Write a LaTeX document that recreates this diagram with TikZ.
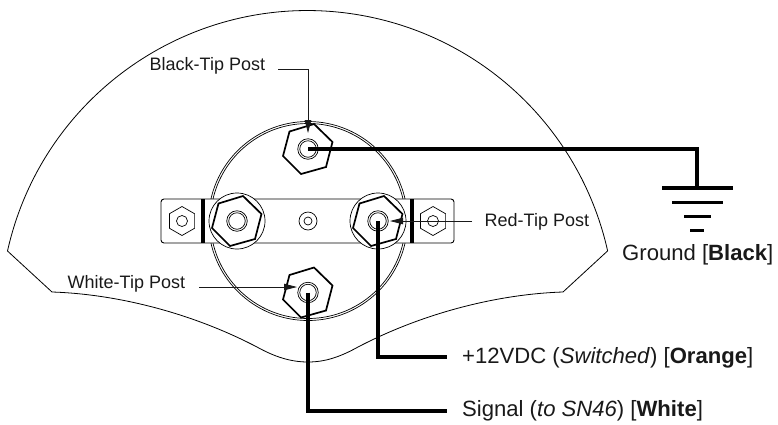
\documentclass[tikz,border=0pt]{standalone}
\usepackage{fontspec}
\setmainfont{Liberation Sans}
\usetikzlibrary{arrows.meta,calc}
\tikzset{
  thinline/.style={line width=0.8pt,draw=black},
  outline/.style={line width=0.9pt,draw=black,fill=white},
  hexline/.style={line width=1.7pt,draw=black,line join=miter},
  wire/.style={line width=3.4pt,draw=black,line join=miter},
  groundbar/.style={line width=3.2pt,draw=black},
  leader/.style={line width=0.8pt,draw=black!90,-{Triangle[length=13pt,width=6.5pt]}},
  smalllabel/.style={font=\fontsize{18}{20}\selectfont,text=black!90,inner sep=0pt,anchor=west},
  biglabel/.style={font=\fontsize{22.1}{25}\selectfont,text=black!90,inner sep=0pt,anchor=west},
  ring/.style={circle,draw=black,line width=0.7pt,fill=white,inner sep=0pt,minimum size=#1},
  lowerring/.style={circle,draw=black,line width=0.7pt,inner sep=0pt,minimum size=#1},
}
\newcommand{\bolthex}[1]{\draw[hexline,fill=white] ($(#1)+(-18.5,-17.5)$) -- ($(#1)+(6,-25)$) -- ($(#1)+(24.5,-7)$) -- ($(#1)+(18,18)$) -- ($(#1)+(-7,25)$) -- ($(#1)+(-25,7)$) -- cycle;}
\newcommand{\smallhex}[1]{\draw[line width=0.7pt,fill=white] ($(#1)+(0,-14.5)$) -- ($(#1)+(12.6,-7.25)$) -- ($(#1)+(12.6,7.25)$) -- ($(#1)+(0,14.5)$) -- ($(#1)+(-12.6,7.25)$) -- ($(#1)+(-12.6,-7.25)$) -- cycle;}
\begin{document}
\begin{tikzpicture}[x=1pt,y=-1pt]
\useasboundingbox (0,0) rectangle (778,424);
\draw[thinline,line join=round]
  (607.5,251) -- (563,292)
  .. controls (500,294) and (425,312) .. (358,347)
  .. controls (340,357) and (325,362) .. (308,362)
  .. controls (291,362) and (275,357) .. (257,347)
  .. controls (190,312) and (115,294) .. (52,292)
  -- (7.5,251);
\draw[thinline] (7.5,251) arc[start angle=192.6,end angle=347.4,radius=307.5];
\node[lowerring=199pt] (housing) at (308,221) {};
\node[lowerring=195pt] (housingin) at (308,221) {};
\draw[outline,rounded corners=3pt] (161,199) rectangle (454,243);
\draw[line width=4pt] (203,199) -- (203,243);
\draw[line width=4pt] (412,199) -- (412,243);
\coordinate (screwL) at (182,221);
\coordinate (screwR) at (433,221);
\smallhex{screwL}
\smallhex{screwR}
\node[ring=11pt] at (screwL) {};
\node[ring=11pt] at (screwR) {};
\node[ring=18pt] (centreA) at (308,221) {};
\node[ring=8pt] (centreB) at (308,221) {};
\node[ring=56pt] (ringL) at (237,221) {};
\node[ring=56pt] (ringR) at (378,221) {};
\coordinate (postTop) at (308,149);
\coordinate (postBot) at (308,292.5);
\coordinate (postL) at (237,221);
\coordinate (postR) at (378,221);
\bolthex{postTop}
\bolthex{postBot}
\bolthex{postL}
\bolthex{postR}
\foreach \p in {postTop,postBot,postL,postR}{
  \node[ring=20.5pt] at (\p) {};
  \node[ring=16.5pt] at (\p) {};
}
\coordinate (gndTop) at (697,188);
\coordinate (gndCorner) at (697,149);
\draw[groundbar] (662,188) -- (733,188);
\draw[groundbar] (672,202.5) -- (723,202.5);
\draw[groundbar] (684,216.5) -- (711,216.5);
\draw[groundbar] (690,230.5) -- (704,230.5);
\node[smalllabel] (lblBlack) at (149.5,66) {Black-Tip Post};
\node[smalllabel] (lblRed) at (484.5,222) {Red-Tip Post};
\node[smalllabel] (lblWhite) at (67.5,284) {White-Tip Post};
\node[biglabel] (lblGround) at (622,255) {Ground [\textbf{Black}]};
\node[biglabel] (lblOrange) at (462,358) {+12VDC (\textit{Switched}) [\textbf{Orange}]};
\node[biglabel] (lblSignal) at (462,411) {Signal (\textit{to SN46}) [\textbf{White}]};
\coordinate (orangeEnd) at (447,357);
\coordinate (signalEnd) at (447,411);
\draw[wire] (postTop) -- (gndCorner) -- (gndTop);
\draw[wire] (postR) |- (orangeEnd);
\draw[wire] (postBot) |- (signalEnd);
\coordinate (blackStart) at (278,69);
\coordinate (blackCorner) at (308,69);
\coordinate (blackTip) at (308,133);
\coordinate (redStart) at (472,221);
\coordinate (redTip) at (390,221);
\coordinate (whiteStart) at (199,287);
\coordinate (whiteTip) at (297,287);
\draw[leader] (blackStart) -- (blackCorner) -- (blackTip);
\draw[leader] (redStart) -- (redTip);
\draw[leader] (whiteStart) -- (whiteTip);
\end{tikzpicture}
\end{document}
